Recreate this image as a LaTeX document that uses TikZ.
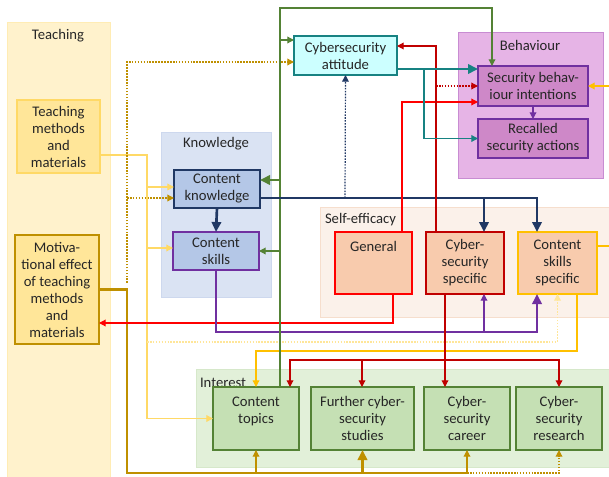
\documentclass[tikz,border=0pt]{standalone}
\usepackage{fontspec}
\setmainfont{Carlito}
\usetikzlibrary{arrows.meta}

\definecolor{txt}{RGB}{38,38,38}
\definecolor{teachbg}{RGB}{255,242,204}
\definecolor{teachbd}{RGB}{255,236,180}
\definecolor{tmfill}{RGB}{255,230,153}
\definecolor{tmbd}{RGB}{255,217,102}
\definecolor{gold}{RGB}{191,144,0}
\definecolor{knowbg}{RGB}{218,227,243}
\definecolor{knowbd}{RGB}{205,216,238}
\definecolor{knowfill}{RGB}{180,199,231}
\definecolor{navy}{RGB}{32,56,100}
\definecolor{purp}{RGB}{112,48,160}
\definecolor{attfill}{RGB}{204,255,255}
\definecolor{tealc}{RGB}{23,130,130}
\definecolor{behbg}{RGB}{230,180,230}
\definecolor{behbd}{RGB}{200,140,210}
\definecolor{behfill}{RGB}{206,136,200}
\definecolor{selfbg}{RGB}{251,241,234}
\definecolor{selfbd}{RGB}{246,222,205}
\definecolor{effill}{RGB}{248,203,173}
\definecolor{redc}{RGB}{255,0,0}
\definecolor{dred}{RGB}{192,0,0}
\definecolor{orng}{RGB}{255,192,0}
\definecolor{intbg}{RGB}{226,240,217}
\definecolor{intbd}{RGB}{214,232,202}
\definecolor{intfill}{RGB}{197,224,180}
\definecolor{grn}{RGB}{84,130,53}
\definecolor{yl}{RGB}{255,217,102}
\definecolor{ylt}{RGB}{255,230,153}

\begin{document}
\begin{tikzpicture}[x=0.75pt,y=-0.75pt,
  every node/.style={font=\fontsize{11}{12.75}\selectfont,text=txt,align=center,inner sep=0pt,outer sep=0pt},
  sz/.style 2 args={minimum width=#1*0.75pt,minimum height=#2*0.75pt},
  box/.style={draw,line width=1.1pt},
  grp/.style={line width=0.6pt},
  tip/.style={-{Triangle[length=5pt,width=5pt]}},
  bigtip/.style={-{Triangle[length=7.5pt,width=7pt]}},
  thn/.style={line width=0.9pt},
  thk/.style={line width=2pt},
  dots/.style={line width=0.9pt,dash pattern=on 1.2pt off 1pt}]
\useasboundingbox (0,0) rectangle (609,477);
\fill[white] (0,0) rectangle (609,477);

\filldraw[grp,fill=teachbg,draw=teachbd] (7,22) rectangle (110,480);
\filldraw[grp,fill=knowbg,draw=knowbd] (161,132) rectangle (271,297);
\filldraw[grp,fill=behbg,draw=behbd] (458,32) rectangle (603,178);
\filldraw[grp,fill=selfbg,draw=selfbd] (320,207) rectangle (615,317);
\filldraw[grp,fill=intbg,draw=intbd] (196,369) rectangle (615,467);

\node (teaching) at (58,36) {Teaching};
\node (knowledge) at (216,144) {Knowledge};
\node (behaviour) at (530,45) {Behaviour};
\node[anchor=west] (selfeff) at (325,220) {Self-efficacy};
\node[anchor=west] (interest) at (200,383) {Interest};

\node[box,sz={83}{73},fill=tmfill,draw=tmbd] (tm) at (58.5,136.5) {Teaching\\methods\\and\\materials};
\node[box,sz={84}{109},fill=tmfill,draw=gold] (mot) at (57,289.5) {Motiva-\\tional effect\\of teaching\\methods\\and\\materials};
\node[box,sz={103}{39},fill=attfill,draw=tealc] (att) at (345.5,55.5) {Cybersecurity\\attitude};
\node[box,sz={110}{40},fill=behfill,draw=purp] (sbi) at (533,86) {Security behav-\\iour intentions};
\node[box,sz={110}{39},fill=behfill,draw=purp] (rsa) at (533,138.5) {Recalled\\security actions};
\node[box,sz={86}{38},fill=knowfill,draw=navy] (ck) at (217,189) {Content\\knowledge};
\node[box,sz={86}{38},fill=knowfill,draw=purp] (cs) at (216,251) {Content\\skills};
\node[box,sz={77}{62},fill=effill,draw=redc] (gen) at (373.5,263) {General\\\mbox{}\\\mbox{}};
\node[box,sz={78}{62},fill=effill,draw=dred] (css) at (465,263) {Cyber-\\security\\specific};
\node[box,sz={79}{62},fill=effill,draw=orng] (cks) at (557.5,263) {Content\\skills\\specific};
\node[box,sz={86}{63},fill=intfill,draw=grn] (ct) at (256,418.5) {Content\\topics\\\mbox{}};
\node[box,sz={103}{63},fill=intfill,draw=grn] (fs) at (362.5,418.5) {Further cyber-\\security\\studies};
\node[box,sz={86}{63},fill=intfill,draw=grn] (car) at (467,418.5) {Cyber-\\security\\career};
\node[box,sz={86}{63},fill=intfill,draw=grn] (res) at (559,418.5) {Cyber-\\security\\research};

\coordinate (gk) at (280,180);
\coordinate (ga) at (280,40);
\coordinate (gs) at (280,251);
\coordinate (nb) at (484,198);
\coordinate (nd) at (345,198);
\coordinate (rd) at (436,86);
\coordinate (rh) at (445,360);
\coordinate (rf) at (362,360);
\coordinate (tb) at (424,69);
\coordinate (pb) at (484,332);
\coordinate (yk) at (147,187);
\coordinate (ys) at (147,248);
\coordinate (yd) at (147,342);
\coordinate (gc) at (127,283);
\coordinate (gd) at (127,198);
\coordinate (gl) at (127,473);
\coordinate (bt) at (256,473);
\coordinate (bf) at (362,473);
\coordinate (bc) at (467,473);

\draw[yl,thn,tip] (tm.east |- 0,155) -| (ys) |- (ct.west);
\draw[yl,thn,tip] (yk) -- (ck.west |- yk);
\draw[yl,thn,tip] (ys) -- (cs.west |- ys);
\draw[ylt,dots,tip] (yd) -| (cks.south);
\draw[gold,dots,tip] (gc) |- (att.west |- 0,62);
\draw[gold,dots,tip] (gd) -- (ck.west |- gd);
\draw[gold,thk,bigtip] (mot.east) -| (gl) -| (fs.south);
\draw[gold,thn,tip] (bt) -- (ct.south);
\draw[gold,thn,tip] (bf) -| (car.south);
\draw[gold,dots,tip] (bc) -| (res.south);

\draw[redc,thn,tip] (gen.south -| 393,0) |- (mot.east |- 0,323);
\draw[purp,thk,bigtip] (cs.south) |- (pb) -| (cks.south -| 537,0);
\draw[purp,thn,tip] (pb) -- (css.south -| pb);
\draw[orng,thn,tip] (cks.south -| 577,0) |- (ct.north |- 0,351) -- (ct.north);
\draw[orng,thn,tip] (cks.east |- 0,246) -- (615,246) |- (sbi.east);
\draw[dred,thn,tip] (css.south -| rh) -- (car.north -| rh);
\draw[dred,thn,tip] (rh) -| (ct.north -| 290,0);
\draw[dred,thn,tip] (rh) -| (res.north);
\draw[dred,thn,tip] (rf) -- (fs.north -| rf);

\draw[grn,thk,bigtip] (ct.north -| gk) |- (ck.east |- gk);
\draw[grn,thn,tip] (gk) |- (492,8) -- (sbi.north -| 492,0);
\draw[grn,thn,tip] (ga) -- (att.west |- ga);
\draw[grn,thn,tip] (gs) -- (cs.east);

\draw[navy,thk,bigtip] (ck.south) -- (cs.north);
\draw[navy,dots,tip] (nd) -- (att.south);
\draw[navy,thk,bigtip] (ck.east |- 0,198) -| (cks.north -| 537,0);
\draw[navy,thk,bigtip] (nb) -- (css.north -| nb);

\draw[redc,thn,tip] (gen.north -| 402,0) |- (sbi.west |- 0,102);
\draw[dred,thn,tip] (css.north -| rd) |- (att.east |- 0,46);
\draw[dred,dots,tip] (rd) -- (sbi.west);
\draw[tealc,thk,bigtip] (att.east |- tb) -- (sbi.west |- tb);
\draw[tealc,thn,tip] (tb) |- (rsa.west);
\draw[purp,thn,tip] (sbi.south) -- (rsa.north);
\end{tikzpicture}
\end{document}
